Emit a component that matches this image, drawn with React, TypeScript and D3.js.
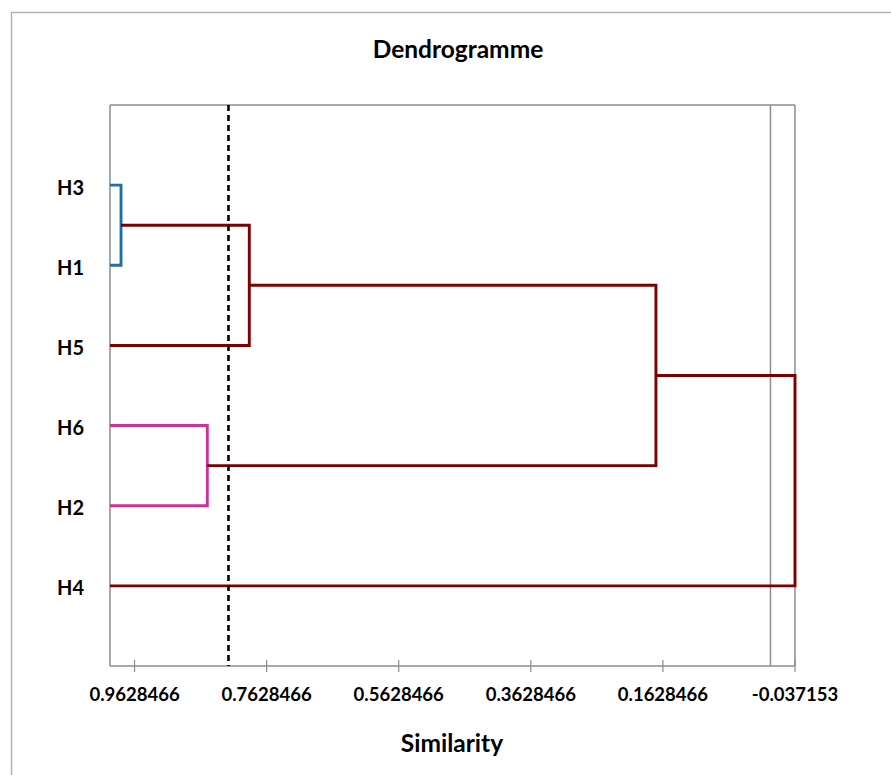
import React from "react";
import * as d3 from "d3";

const leaves = ["H3", "H1", "H5", "H6", "H2", "H4"];
// merges: [childA, childB, similarity, colour group]
const mergeA = ["H3", "H6", "C1", "C3", "C4"];
const mergeB = ["H1", "H2", "H5", "C2", "H4"];
const mergeSim = [0.9833, 0.8527, 0.7891, 0.1734, -0.037153];
const mergeGroup = ["blue", "pink", "red", "red", "red"];
const tickValues = [0.9628466, 0.7628466, 0.5628466, 0.3628466, 0.1628466, -0.037153];
const tickLabels = ["0.9628466", "0.7628466", "0.5628466", "0.3628466", "0.1628466", "-0.037153"];
const cutLevel = 0.8206;
const zeroLine = 0;

const W = 891, H = 775;
const left = 110, right = 795, top = 105, bottom = 666;
const colors: Record<string, string> = { blue: "#1f6fa3", pink: "#cc3399", red: "#7b0000" };
const font = "Lato, 'Open Sans', sans-serif";

export default function App() {
  const x = d3.scaleLinear().domain([1, -0.037153]).range([left, right]);
  const y = d3.scaleLinear().domain([0, leaves.length + 1]).range([top, bottom]);

  const pos: Record<string, { x: number; y: number }> = {};
  leaves.forEach((l, i) => (pos[l] = { x: x(1), y: y(i + 1) }));
  const paths: { d: string; c: string }[] = [];
  mergeA.forEach((a, i) => {
    const b = mergeB[i];
    const mx = x(mergeSim[i]);
    const pa = pos[a], pb = pos[b];
    const d = `M${pa.x},${pa.y}H${mx}V${pb.y}H${pb.x}`;
    paths.push({ d, c: colors[mergeGroup[i]] });
    pos["C" + (i + 1)] = { x: mx, y: (pa.y + pb.y) / 2 };
  });

  return (
    <svg width={W} height={H} style={{ position: "absolute", left: 0, top: 0, background: "#fff" }}>
      <rect x={11.5} y={12.5} width={900} height={800} fill="#fff" stroke="#b3b3b3" strokeWidth={1.5} />
      <text x={458} y={58} textAnchor="middle" fontFamily={font} fontWeight="bold" fontSize={24.5} fill="#000">
        Dendrogramme
      </text>
      {/* plot frame */}
      <line x1={left} x2={right} y1={top} y2={top} stroke="#8c8c8c" strokeWidth={1.5} />
      <line x1={right} x2={right} y1={top} y2={bottom} stroke="#8c8c8c" strokeWidth={1.5} />
      <line x1={left} x2={left} y1={top} y2={bottom} stroke="#8c8c8c" strokeWidth={1.5} />
      <line x1={left} x2={right} y1={bottom} y2={bottom} stroke="#8c8c8c" strokeWidth={1.5} />
      <line x1={x(zeroLine)} x2={x(zeroLine)} y1={top} y2={bottom} stroke="#8c8c8c" strokeWidth={1.5} />
      {tickValues.map((t, i) => (
        <g key={i}>
          <line x1={x(t)} x2={x(t)} y1={bottom - 6} y2={bottom + 6} stroke="#8c8c8c" strokeWidth={1.2} />
          <text x={x(t)} y={701} textAnchor="middle" fontFamily={font} fontWeight="bold" fontSize={18.5} fill="#000">
            {tickLabels[i]}
          </text>
        </g>
      ))}
      {leaves.map((l, i) => (
        <text key={l} x={57} y={y(i + 1) + 9.5} fontFamily={font} fontWeight="bold" fontSize={20} fill="#000">
          {l}
        </text>
      ))}
      {paths.map((p, i) => (
        <path key={i} d={p.d} fill="none" stroke={p.c} strokeWidth={2.9} />
      ))}
      <line x1={x(cutLevel)} x2={x(cutLevel)} y1={top} y2={bottom} stroke="#000" strokeWidth={2.6} strokeDasharray="6,4" />
      <text x={452} y={752} textAnchor="middle" fontFamily={font} fontWeight="bold" fontSize={24.5} fill="#000">
        Similarity
      </text>
    </svg>
  );
}
